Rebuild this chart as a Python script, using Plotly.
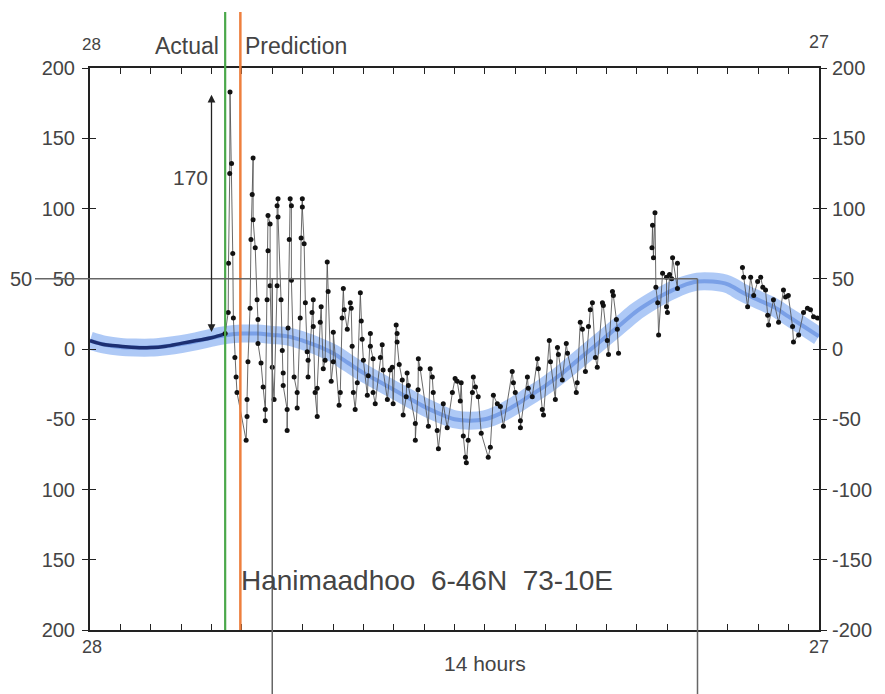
import plotly.graph_objects as go

# ---------------- data (hours from chart start, sea level in cm) ----------------
pred_t = [0, 0.5, 1, 1.5, 2, 2.5, 3, 3.5, 4, 4.5, 5, 5.5, 6, 6.5, 7, 7.5, 8, 8.5, 9, 9.5,
          10, 10.5, 11, 11.5, 12, 12.5, 13, 13.5, 14, 14.5, 15, 15.5, 16, 16.5, 17, 17.5,
          18, 18.5, 19, 19.5, 20, 20.5, 21, 21.5, 22, 22.5, 23, 23.5, 24]
pred_v = [6, 3, 1.5, 1, 1, 2, 3.5, 5.5, 8, 10, 11, 11, 10, 9, 6, 2, -3, -10, -17, -23,
          -29, -35, -41, -46, -50, -51, -50, -46, -40, -33, -26, -18, -9, 0, 9, 18,
          27, 34, 40, 45, 48, 48, 46, 40, 35, 30, 23, 16, 9]

actual_t = [0, 0.5, 1, 1.5, 2, 2.5, 3, 3.5, 4, 4.45]
actual_v = [6, 3, 2, 1, 1, 2, 4, 6, 8, 11]

obs_t = [4.45, 4.55, 4.56, 4.60, 4.61, 4.66, 4.70, 4.72, 4.77, 4.81, 4.84,
         5.14, 5.17, 5.17, 5.20, 5.27,
         5.30, 5.34, 5.37, 5.37, 5.44,
         5.50, 5.53, 5.53, 5.63, 5.70, 5.77, 5.77,
         5.83, 5.86, 5.86, 5.93, 5.93, 6.00, 6.06,
         6.16, 6.16, 6.19, 6.19, 6.29, 6.33, 6.36, 6.36, 6.49, 6.49,
         6.52, 6.56, 6.59, 6.63, 6.63, 6.72, 6.82, 6.82,
         6.92, 6.95, 6.99, 6.99, 7.05, 7.09, 7.15, 7.18, 7.18,
         7.31, 7.35, 7.35, 7.41, 7.48, 7.48,
         7.58, 7.61, 7.68, 7.74,
         7.81, 7.84, 7.94, 8.01, 8.01,
         8.20, 8.24, 8.30, 8.34, 8.37, 8.47, 8.57, 8.60,
         8.63, 8.67, 8.73, 8.80,
         8.90, 8.93, 8.96, 9.00, 9.13, 9.16,
         9.23, 9.23, 9.32, 9.32, 9.39,
         9.56, 9.62, 9.65, 9.79, 9.88, 9.95, 9.98,
         10.08, 10.11, 10.11, 10.18, 10.28, 10.31,
         10.41, 10.44, 10.48, 10.71, 10.71,
         10.80, 10.81, 10.87, 11.14,
         11.20, 11.27, 11.30, 11.43, 11.47,
         11.63, 11.76, 11.93, 12.02, 12.09, 12.19, 12.22, 12.29, 12.36, 12.39, 12.45,
         12.59, 12.62, 12.69, 12.78, 12.88, 13.11, 13.18,
         13.28, 13.41, 13.51, 13.61,
         13.90, 13.94, 14.00, 14.17, 14.17,
         14.40, 14.43, 14.56,
         14.73, 14.76, 14.89, 14.93,
         15.12, 15.16, 15.32, 15.39, 15.42,
         15.55, 15.68, 15.72,
         16.01, 16.04, 16.14, 16.21, 16.31, 16.41,
         16.47, 16.54, 16.64, 16.70,
         16.87, 16.90, 17.03, 17.07,
         17.20, 17.23, 17.33, 17.36, 17.40,
         None,
         18.50, 18.52, 18.55, 18.60, 18.63, 18.69, 18.72,
         18.85, 18.98, 18.98, 19.01, 19.08, 19.15, 19.18, 19.34, 19.34,
         None,
         21.48, 21.52, 21.65, 21.75, 21.85, 21.98, 22.08, 22.15, 22.24, 22.31, 22.34,
         22.50, 22.67, 22.83, 22.90, 22.99, 23.13, 23.16, 23.33, 23.49, 23.62, 23.72,
         23.82, 23.95]
obs_v = [11, 26, 61, 125, 183, 132, 68, 22, -6, -20, -31,
         -65, -48, -36, -9, 29,
         78, 110, 136, 92, 72,
         35, 21, 4, -10, -27, -43, -51,
         35, 70, 95, 89, 45, -13, -36,
         45, 102, 107, 94, 35, -1, -17, -26, -43, -58,
         15, 78, 107, 102, 49, -20, -31, -42,
         22, 79, 107, 101, 75, 33, -2, -8, -20,
         26, 35, 16, -31, -48, -28,
         19, 30, -14, -8,
         62, 41, -23, -9, 12,
         -40, -31, 22, 43, 28, 14, 33, 29,
         2, -31, -43, -24,
         40, 20, 7, -8, -33, -19,
         11, 2, -7, -31, -39,
         -6, 3, -15, -36, -15, -13, -39,
         17, 11, 5, -11, -22, -47,
         -34, -17, -26, -53, -65,
         -29, -7, -14, -55,
         -14, -20, -31, -58, -71,
         -39, -56, -31, -21, -23, -37, -24, -62, -77, -81, -65,
         -31, -20, -27, -34, -60, -77, -70,
         -33, -39, -41, -55,
         -16, -24, -31, -51, -56,
         -20, -28, -34,
         -7, -14, -43, -47,
         6, -9, -36, 1, -4,
         -22, 4, -3,
         -31, -24, 19, 14, -16, 16,
         28, 33, -6, -13,
         33, 31, 6, -4,
         41, 38, 21, 14, -3,
         None,
         72, 88, 65, 97, 44, 33, 10,
         54, 51, 30, 26, 53, 50, 65, 43, 61,
         None,
         58, 51, 30, 51, 38, 48, 51, 44, 42, 24, 17,
         35, 19, 42, 37, 38, 16, 5, 10, 26, 29, 28,
         23, 22]

hour_ticks = list(range(0, 25))
y_ticks = [-200, -150, -100, -50, 0, 50, 100, 150, 200]
left_labels = ["200", "150", "100", "-50", "0", "50", "100", "150", "200"]
right_labels = ["-200", "-150", "-100", "-50", "0", "50", "100", "150", "200"]

green_t = 4.45
orange_t = 4.95
mark_t = [6.0, 20.0]
level_line = 50
arrow_t = 4.0
arrow_top, arrow_bottom = 181, 11

FONT = "Liberation Sans, Arial, Helvetica, sans-serif"
TXT = "#444444"
Y_MIN, Y_MAX = -200, 200
X_MAX = 24

def py(pix):  # pixel row -> paper y (plot area rows 68..630)
    return (630 - pix) / 562.0

fig = go.Figure()

# prediction band
fig.add_trace(go.Scatter(x=pred_t, y=pred_v, mode="lines", line=dict(color="rgba(120,165,240,0.6)", width=18, shape="spline"),
                         hoverinfo="skip", showlegend=False))
fig.add_trace(go.Scatter(x=pred_t, y=pred_v, mode="lines", line=dict(color="rgba(70,120,215,0.5)", width=4, shape="spline"),
                         hoverinfo="skip", showlegend=False))
# actual (before event)
fig.add_trace(go.Scatter(x=actual_t, y=actual_v, mode="lines", line=dict(color="#1c2f72", width=3.5, shape="spline"),
                         showlegend=False))
# observed after event
fig.add_trace(go.Scatter(x=obs_t, y=obs_v, mode="lines+markers", connectgaps=False,
                         line=dict(color="rgba(80,80,80,0.85)", width=1),
                         marker=dict(color="#111111", size=5), showlegend=False))
# dummy trace for right axis
fig.add_trace(go.Scatter(x=[None], y=[None], yaxis="y2", showlegend=False))

lvl_paper = (level_line - Y_MIN) / (Y_MAX - Y_MIN)
shapes = [
    dict(type="line", xref="x", yref="paper", x0=green_t, x1=green_t, y0=0, y1=py(12),
         line=dict(color="#4aa84a", width=2.2)),
    dict(type="line", xref="x", yref="paper", x0=orange_t, x1=orange_t, y0=0, y1=py(12),
         line=dict(color="#ee7f3e", width=2.5)),
    dict(type="line", xref="paper", yref="paper", x0=-0.0754, x1=mark_t[1] / X_MAX, y0=lvl_paper, y1=lvl_paper,
         line=dict(color="#666666", width=1.5)),
]
for t in mark_t:
    shapes.append(dict(type="line", xref="paper", yref="paper", x0=t / X_MAX, x1=t / X_MAX,
                       y0=lvl_paper, y1=py(700), line=dict(color="#666666", width=1.5)))

annotations = []
def txt(x, y, s, size=18, xanchor="center", xref="x"):
    annotations.append(dict(x=x, y=y, xref=xref, yref="paper", text=s, showarrow=False,
                            xanchor=xanchor, yanchor="middle", font=dict(family=FONT, size=size, color=TXT)))

# top labels
txt(0.05, py(45), "28", size=17)
txt(24, py(42), "27", size=18)
txt(4.32, py(46), "Actual", size=23, xanchor="right")
txt(5.05, py(46), "Prediction", size=23, xanchor="left")
# bottom labels
txt(0.05, py(647), "28", size=18)
txt(24, py(647), "27", size=18)
txt(13.0, py(663), "14 hours", size=21)
# extra 50 at far left
txt(-0.077, lvl_paper, "50", size=20, xanchor="right", xref="paper")
# 170 label and arrow
txt(3.3, py(177), "170", size=21)
annotations.append(dict(x=arrow_t, y=arrow_top, ax=arrow_t, ay=arrow_bottom, xref="x", yref="y",
                        axref="x", ayref="y", showarrow=True, arrowhead=2, arrowside="end+start",
                        arrowsize=1.2, arrowwidth=1.3, arrowcolor="#222222", text=""))
# station name
txt(4.9, py(580), "Hanimaadhoo  6-46N  73-10E", size=28, xanchor="left")

fig.update_layout(
    width=885, height=694,
    margin=dict(l=90, r=66, t=68, b=64),
    paper_bgcolor="white", plot_bgcolor="white",
    font=dict(family=FONT, size=20, color=TXT),
    shapes=shapes, annotations=annotations,
    xaxis=dict(range=[0, X_MAX], tickvals=hour_ticks, ticktext=[""] * len(hour_ticks),
               ticks="inside", ticklen=6, tickwidth=1.2, tickcolor="#222",
               showline=True, linecolor="#222", linewidth=2, mirror="ticks",
               showgrid=False, zeroline=False),
    yaxis=dict(range=[Y_MIN, Y_MAX], tickvals=y_ticks, ticktext=left_labels,
               ticks="outside", ticklen=6, tickwidth=1.2, tickcolor="#222",
               showline=True, linecolor="#222", linewidth=2, mirror="ticks",
               showgrid=False, zeroline=False, ticklabelstandoff=3,
               tickfont=dict(family=FONT, size=20, color=TXT)),
    yaxis2=dict(range=[Y_MIN, Y_MAX], overlaying="y", side="right", tickvals=y_ticks, ticktext=right_labels,
                ticks="inside", ticklen=6, tickwidth=1.2, tickcolor="#222", mirror="ticks",
                showline=False, showgrid=False, zeroline=False, ticklabelstandoff=12,
                tickfont=dict(family=FONT, size=20, color=TXT)),
    showlegend=False,
)

fig.write_html("out.html")
